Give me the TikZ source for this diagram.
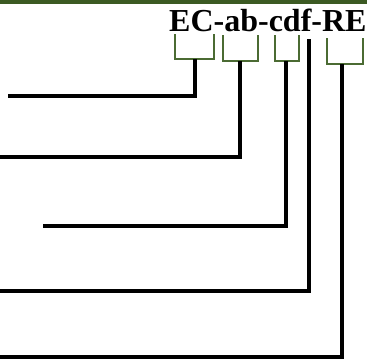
\documentclass[tikz,border=0pt]{standalone}
\usepackage{fontspec}
\setmainfont{Liberation Serif}
\usetikzlibrary{positioning,calc}
\definecolor{bargreen}{HTML}{3C5A23}
\definecolor{brkgreen}{HTML}{4B6B33}

\begin{document}
\begin{tikzpicture}[
    x=1pt, y=-1pt,
    code/.style={font=\fontsize{32}{32}\selectfont\bfseries, inner sep=0pt, anchor=base west},
    brk/.style={draw=brkgreen, line width=2.3pt},
    lead/.style={draw=black, line width=3.2pt}
]
    \useasboundingbox (0,0) rectangle (367,360);
    \fill[bargreen] (0,0) rectangle (367,4);

    \node[code] (name) at (169,31.5) {EC-ab-cdf-RE};

    % brackets under each part
    \draw[brk] (175,34) |- (214,59) -- (214,34);
    \draw[brk] (223,35) |- (258,61) -- (258,35);
    \draw[brk] (275,35) |- (299,61) -- (299,35);
    \draw[brk] (327,38) |- (363,64) -- (363,38);

    \coordinate (ec)  at (195,59);
    \coordinate (ab)  at (240,61);
    \coordinate (cdf) at (286,61);
    \coordinate (f)   at (309,39);
    \coordinate (re)  at (342,64);

    \coordinate (ecend)  at (8,96);
    \coordinate (abend)  at (0,157);
    \coordinate (cdfend) at (43,226);
    \coordinate (fend)   at (0,291);
    \coordinate (reend)  at (0,357);

    \draw[lead] (ec) |- (ecend);
    \draw[lead] (ab) |- (abend);
    \draw[lead] (cdf) |- (cdfend);
    \draw[lead] (f) |- (fend);
    \draw[lead] (re) |- (reend);
\end{tikzpicture}
\end{document}
